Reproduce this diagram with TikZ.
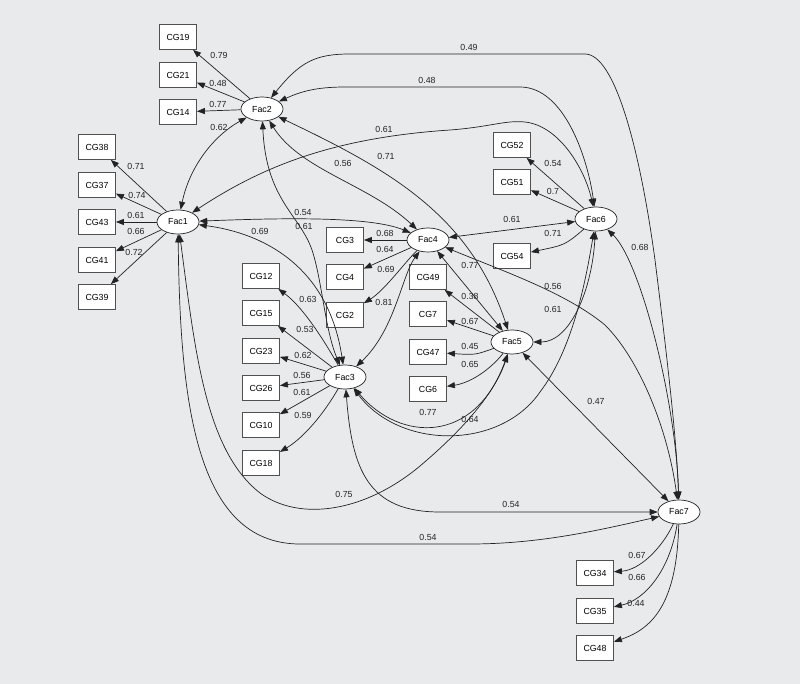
\documentclass[tikz,border=0pt]{standalone}
\usepackage{fontspec}
\setmainfont{Liberation Sans}
\usetikzlibrary{shapes.geometric, arrows.meta}
\definecolor{SEMBack}{RGB}{233,234,236}
\definecolor{SEMLine}{RGB}{35,35,35}
\definecolor{SEMEdge}{RGB}{80,80,80}

\begin{document}
\begin{tikzpicture}[x=1pt, y=-1pt,
  font=\fontsize{8.8}{10}\selectfont,
  item/.style={rectangle, draw=SEMEdge, fill=white, line width=0.8pt, minimum width=37pt, minimum height=25pt, inner sep=0pt},
  factor/.style={ellipse, draw=SEMLine, fill=white, line width=0.7pt, minimum width=42pt, minimum height=24pt, inner sep=0pt},
  load/.style={-{Triangle[length=8pt, width=6pt]}, line width=0.7pt, SEMLine},
  corr/.style={{Triangle[length=8pt, width=6pt]}-{Triangle[length=8pt, width=6pt]}, line width=0.7pt, SEMLine},
  coef/.style={text=SEMLine, inner sep=0pt}
]

\fill[SEMBack] (0,0) rectangle (800,684);
\useasboundingbox (0,0) rectangle (800,684);

% latent factors
\node[factor] (fac1) at (178,222) {Fac1};
\node[factor] (fac2) at (262,109) {Fac2};
\node[factor] (fac3) at (345,377) {Fac3};
\node[factor] (fac4) at (428,240) {Fac4};
\node[factor] (fac5) at (512,342) {Fac5};
\node[factor] (fac6) at (596,219) {Fac6};
\node[factor] (fac7) at (679,512) {Fac7};

% observed items
\node[item] (cg19) at (178,37) {CG19};
\node[item] (cg21) at (178,75) {CG21};
\node[item] (cg14) at (178,112) {CG14};

\node[item] (cg38) at (97,147) {CG38};
\node[item] (cg37) at (97,185) {CG37};
\node[item] (cg43) at (97,222) {CG43};
\node[item] (cg41) at (97,260) {CG41};
\node[item] (cg39) at (97,297) {CG39};

\node[item] (cg3) at (345,240) {CG3};
\node[item] (cg4) at (345,277) {CG4};
\node[item] (cg2) at (345,315) {CG2};

\node[item] (cg12) at (261,276) {CG12};
\node[item] (cg15) at (261,313) {CG15};
\node[item] (cg23) at (261,351) {CG23};
\node[item] (cg26) at (261,388) {CG26};
\node[item] (cg10) at (261,425) {CG10};
\node[item] (cg18) at (261,463) {CG18};

\node[item] (cg52) at (512,145) {CG52};
\node[item] (cg51) at (512,182) {CG51};
\node[item] (cg54) at (512,256) {CG54};

\node[item] (cg49) at (428,277) {CG49};
\node[item] (cg7) at (428,314) {CG7};
\node[item] (cg47) at (428,352) {CG47};
\node[item] (cg6) at (428,389) {CG6};

\node[item] (cg34) at (595,573) {CG34};
\node[item] (cg35) at (595,611) {CG35};
\node[item] (cg48) at (595,648) {CG48};

% loadings
\draw[load] (fac2) -- (cg19) node[coef] at (219,55) {0.79};
\draw[load] (fac2) -- (cg21) node[coef] at (218,83) {0.48};
\draw[load] (fac2) -- (cg14) node[coef] at (218,104) {0.77};

\draw[load] (fac1) -- (cg38) node[coef] at (136,166) {0.71};
\draw[load] (fac1) -- (cg37) node[coef] at (137,195) {0.74};
\draw[load] (fac1) -- (cg43) node[coef] at (136,215) {0.61};
\draw[load] (fac1) -- (cg41) node[coef] at (136,231) {0.66};
\draw[load] (fac1) -- (cg39) node[coef] at (134,252) {0.72};

\draw[load] (fac4) -- (cg3) node[coef] at (385,233) {0.68};
\draw[load] (fac4) -- (cg4) node[coef] at (385,249) {0.64};
\draw[load] (fac4) .. controls (405,262) and (385,290) .. (cg2) node[coef] at (386,269) {0.69};

\draw[load] (fac3) .. controls (318,330) and (300,305) .. (cg12) node[coef] at (308,299) {0.63};
\draw[load] (fac3) -- (cg15) node[coef] at (305,329) {0.53};
\draw[load] (fac3) -- (cg23) node[coef] at (303,355) {0.62};
\draw[load] (fac3) -- (cg26) node[coef] at (302,375) {0.56};
\draw[load] (fac3) -- (cg10) node[coef] at (302,392) {0.61};
\draw[load] (fac3) .. controls (320,420) and (300,440) .. (cg18) node[coef] at (303,415) {0.59};

\draw[load] (fac6) -- (cg52) node[coef] at (553,163) {0.54};
\draw[load] (fac6) -- (cg51) node[coef] at (553,191) {0.7};
\draw[load] (fac6) .. controls (565,245) .. (cg54) node[coef] at (553,233) {0.71};

\draw[load] (fac5) -- (cg49) node[coef] at (470,296) {0.38};
\draw[load] (fac5) -- (cg7) node[coef] at (470,321) {0.67};
\draw[load] (fac5) .. controls (475,355) .. (cg47) node[coef] at (470,346) {0.45};
\draw[load] (fac5) .. controls (490,370) and (470,383) .. (cg6) node[coef] at (470,364) {0.65};

\draw[load] (fac7) .. controls (662,548) and (640,570) .. (cg34) node[coef] at (637,555) {0.67};
\draw[load] (fac7) .. controls (670,570) and (645,600) .. (cg35) node[coef] at (637,577) {0.66};
\draw[load] (fac7) .. controls (677,600) and (655,628) .. (cg48) node[coef] at (636,603) {0.44};

% factor correlations
\draw[corr] (fac1) .. controls (190,165) and (215,135) .. (fac2) node[coef] at (219,127) {0.62};
\draw[corr] (fac2) .. controls (300,62) and (315,54) .. (350,54) -- (585,54) .. controls (615,54) and (640,150) .. (655,260) .. controls (665,340) and (677,440) .. (fac7) node[coef] at (469,47) {0.49};
\draw[corr] (fac2) .. controls (300,92) and (315,87) .. (345,87) -- (520,87) .. controls (565,87) and (588,160) .. (fac6) node[coef] at (427,80) {0.48};
\draw[corr] (fac1) .. controls (260,168) and (330,138) .. (450,130) .. controls (490,127) and (505,120) .. (525,122) .. controls (560,126) and (585,170) .. (fac6) node[coef] at (384,129) {0.61};
\draw[corr] (fac2) .. controls (300,170) and (370,185) .. (fac4) node[coef] at (343,163) {0.56};
\draw[corr] (fac2) .. controls (390,170) and (470,215) .. (fac5) node[coef] at (386,156) {0.71};
\draw[corr] (fac2) .. controls (266,200) and (300,215) .. (312,250) .. controls (322,280) and (325,330) .. (fac3) node[coef] at (304,226) {0.61};
\draw[corr] (fac1) .. controls (280,218) and (370,216) .. (fac4) node[coef] at (303,212) {0.54};
\draw[corr] (fac1) .. controls (262,233) and (328,265) .. (fac3) node[coef] at (260,231) {0.69};
\draw[corr] (fac4) .. controls (402,275) and (395,330) .. (fac3) node[coef] at (384,302) {0.81};
\draw[corr] (fac4) -- (fac6) node[coef] at (512,219) {0.61};
\draw[corr] (fac4) -- (fac5) node[coef] at (470,265) {0.77};
\draw[corr] (fac4) .. controls (500,270) and (565,292) .. (605,325) .. controls (640,360) and (668,430) .. (fac7) node[coef] at (553,286) {0.56};
\draw[corr] (fac6) .. controls (592,290) and (570,342) .. (fac5) node[coef] at (553,309) {0.61};
\draw[corr] (fac6) .. controls (640,260) and (676,400) .. (fac7) node[coef] at (640,247) {0.68};
\draw[corr] (fac3) .. controls (400,450) and (500,450) .. (540,392) .. controls (572,350) and (585,285) .. (fac6) node[coef] at (470,419) {0.64};
\draw[corr] (fac3) .. controls (400,442) and (475,445) .. (fac5) node[coef] at (428,412) {0.77};
\draw[corr] (fac1) .. controls (195,350) and (205,450) .. (260,493) .. controls (300,522) and (365,512) .. (420,466) .. controls (465,428) and (495,392) .. (fac5) node[coef] at (344,494) {0.75};
\draw[corr] (fac1) .. controls (180,400) and (195,544) .. (300,544) -- (470,544) .. controls (540,544) and (600,530) .. (fac7) node[coef] at (428,537) {0.54};
\draw[corr] (fac3) .. controls (352,470) and (368,512) .. (440,512) -- (fac7) node[coef] at (511,504) {0.54};
\draw[corr] (fac5) -- (fac7) node[coef] at (596,401) {0.47};

\end{tikzpicture}
\end{document}
